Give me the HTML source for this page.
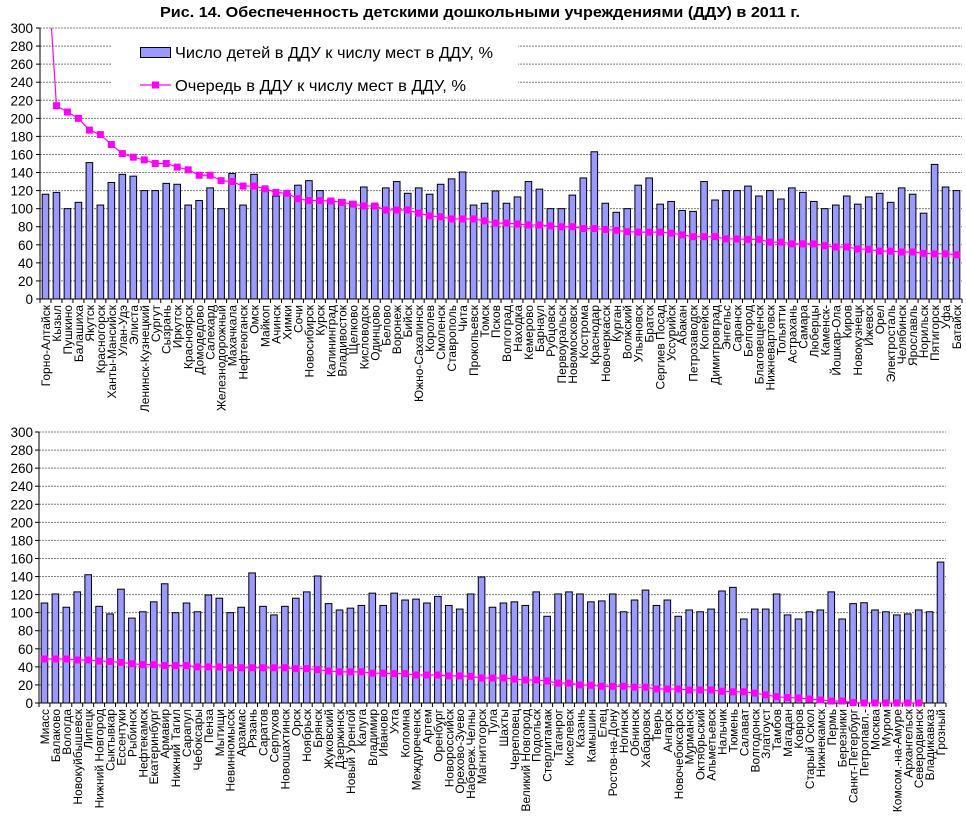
<!DOCTYPE html>
<html><head><meta charset="utf-8">
<style>
html,body{margin:0;padding:0;background:#fff;}
svg{display:block;font-family:"Liberation Sans",Arial,sans-serif;}
</style></head>
<body>
<svg id="s" width="966" height="827" viewBox="0 0 966 827" xmlns="http://www.w3.org/2000/svg">
<text x="480" y="17" text-anchor="middle" font-size="15" font-weight="bold" textLength="640" lengthAdjust="spacingAndGlyphs">Рис. 14. Обеспеченность детскими дошкольными учреждениями (ДДУ) в 2011 г.</text>
</svg>
<script>
const NS="http://www.w3.org/2000/svg";
const svg=document.getElementById('s');
function el(t,a,txt,parent){const e=document.createElementNS(NS,t);for(const k in a)e.setAttribute(k,a[k]);if(txt!=null)e.textContent=txt;(parent||svg).appendChild(e);return e;}

const topC={x0:40,x1:962,y0:299,y300:28,
names:["Горно-Алтайск","Кызыл","Пушкино","Балашиха","Якутск","Красногорск","Ханты-Мансийск","Улан-Удэ","Элиста","Ленинск-Кузнецкий","Сургут","Сызрань","Иркутск","Красноярск","Домодедово","Салехард","Железнодорожный","Махачкала","Нефтеюганск","Омск","Майкоп","Ачинск","Химки","Сочи","Новосибирск","Курск","Калининград","Владивосток","Щелково","Кисловодск","Одинцово","Белово","Воронеж","Бийск","Южно-Сахалинск","Королев","Смоленск","Ставрополь","Чита","Прокопьевск","Томск","Псков","Волгоград","Находка","Кемерово","Барнаул","Рубцовск","Первоуральск","Новомосковск","Кострома","Краснодар","Новочеркасск","Курган","Волжский","Ульяновск","Братск","Сергиев Посад","Уссурийск","Абакан","Петрозаводск","Копейск","Димитровград","Энгельс","Саранск","Белгород","Благовещенск","Нижневартовск","Тольятти","Астрахань","Самара","Люберцы","Каменск-","Йошкар-Ола","Киров","Новокузнецк","Ижевск","Орел","Электросталь","Челябинск","Ярославль","Норильск","Пятигорск","Уфа","Батайск"],
bars:[116,118,100,107,151,104,129,138,136,120,120,128,127,104,109,123,100,139,104,138,122,114,117,126,131,120,110,110,108,124,105,123,130,117,123,116,127,133,140.6,104,106,119.6,106,113,130,121.6,100,100,115,134,163,106,96,100,126,134,105,108,98,97,130,109.6,120,120,125,114,120,110.7,123,118,108,100,104,114,105,113,117,107,123,116,95,149,124,120],
line:[403,214,207,200,187,182,171,161,157,154,150,150,146,143,137,137,131,130,125,125,122,118,117,111,109,109,108.5,107,105,103,103,98.5,98.5,98.5,95,92,91,88.6,88.6,88.6,86.5,84,84,83,82,82,81,80,80,78,78,77,76,74.5,74,74,74,73,71,69,69,69,66.5,66.5,66,66,63,63,61,61,61,59,57.6,57.6,55.4,55,53,53,52,52,50.5,50,50,49]};

const botC={x0:39,x1:946,y0:703,y300:432,
names:["Миасс","Балаково","Вологда","Новокуйбышевск","Липецк","Нижний Новгород","Сыктывкар","Ессентуки","Рыбинск","Нефтекамск","Екатеринбург","Армавир","Нижний Тагил","Сарапул","Чебоксары","Пенза","Мытищи","Невинномысск","Арзамас","Рязань","Саратов","Серпухов","Новошахтинск","Орск","Ноябрьск","Брянск","Жуковский","Дзержинск","Новый Уренгой","Калуга","Владимир","Иваново","Ухта","Коломна","Междуреченск","Артем","Оренбург","Новороссийск","Орехово-Зуево","Набереж.Челны","Магнитогорск","Тула","Шахты","Череповец","Великий Новгород","Подольск","Стерлитамак","Таганрог","Киселевск","Казань","Камышин","Елец","Ростов-на-Дону","Ногинск","Обнинск","Хабаровск","Тверь","Ангарск","Новочебоксарск","Мурманск","Октябрьский","Альметьевск","Нальчик","Тюмень","Салават","Волгодонск","Златоуст","Тамбов","Магадан","Ковров","Старый Оскол","Нижнекамск","Пермь","Березники","Санкт-Петербург","Петропавл.-","Москва","Муром","Комсом.-на-Амуре","Архангельск","Северодвинск","Владикавказ","Грозный"],
bars:[110.7,120.7,106,123,142,107,98.6,126,94,101,112,132,100,110.7,101,119.6,116,100,106,144,107,97.5,107,116,123,140.6,110,103,105,108,121.6,108,121.6,114,115,110.7,118,108,104,120.7,139.5,106,110.7,112,108,123,96,120.7,123,120.7,112,113,120.7,101,114,125,108,114,96,103,101,104,124,128,93,104,104,120.7,97.5,93,101,103,123,93,110,111,103,101,97.5,98.6,103,101,156],
line:[48.7,48.7,48.7,47.6,47.6,46.5,46,45,43.5,42.5,42.5,41.5,41.5,41.5,40,40,40,39,39,39,39,39,39,38,38,37,35.5,34.5,34.5,34.5,33,33,32.5,32.5,31,31,31,30,30,29.5,27.7,27.7,27.7,26.5,25.5,25.5,24.4,22,22,20,19.6,18.5,18.5,18.5,17.5,17.5,15.5,15.5,15.5,14.4,14.4,14.4,13,12.4,12.4,11,9,7,6,5.5,4.4,3.3,2.2,2.2,0.5,0,0,0,0,0,0]};

function chart(c,id,legend){
  const n=c.names.length,w=(c.x1-c.x0)/n,k=(c.y0-c.y300)/300;
  const Y=v=>c.y0-v*k;
  // grid
  for(let v=20;v<=300;v+=20){
    el('line',{x1:c.x0,x2:c.x1,y1:Y(v),y2:Y(v),stroke:'#7f7f7f','stroke-width':1,'stroke-dasharray':'2,1'});
  }
  if(legend){
    el('rect',{x:112,y:33,width:406,height:66,fill:'#fff'});
    el('rect',{x:140.5,y:47.5,width:30,height:10,fill:'#9999ff',stroke:'#000','stroke-width':1});
    el('text',{x:175,y:58,'font-size':16,textLength:318,lengthAdjust:'spacingAndGlyphs'},'Число детей в ДДУ к числу мест в ДДУ, %');
    el('line',{x1:140,x2:171,y1:85,y2:85,stroke:'#ff00ff','stroke-width':1.2});
    el('rect',{x:152,y:81.5,width:7,height:7,fill:'#ff00ff'});
    el('text',{x:175,y:91,'font-size':16,textLength:291,lengthAdjust:'spacingAndGlyphs'},'Очередь в ДДУ к числу мест в ДДУ, %');
  }
  // y labels & ticks
  for(let v=0;v<=300;v+=20){
    el('text',{x:33,y:Y(v)+5,'font-size':13.5,'text-anchor':'end'},String(v));
    el('line',{x1:c.x0-4,x2:c.x0,y1:Y(v),y2:Y(v),stroke:'#000'});
  }
  // bars
  for(let i=0;i<n;i++){
    const cx=c.x0+w*(i+0.5),v=c.bars[i];
    el('rect',{x:(cx-3.3).toFixed(2),y:Y(v).toFixed(2),width:6.6,height:(v*k).toFixed(2),fill:'#9999ff',stroke:'#000','stroke-width':1});
  }
  // axes
  el('line',{x1:c.x0,x2:c.x0,y1:c.y300,y2:c.y0,stroke:'#000'});
  el('line',{x1:c.x0,x2:c.x1,y1:c.y0,y2:c.y0,stroke:'#000'});
  for(let i=0;i<=n;i++){
    const x=c.x0+w*i;
    el('line',{x1:x,x2:x,y1:c.y0,y2:c.y0+4,stroke:'#000'});
  }
  // line clip
  const cp=el('clipPath',{id:id});
  el('rect',{x:c.x0,y:c.y300,width:c.x1-c.x0,height:c.y0-c.y300+5},null,cp);
  const g=el('g',{'clip-path':'url(#'+id+')'});
  let pts=[];
  for(let i=0;i<c.line.length;i++){pts.push((c.x0+w*(i+0.5)).toFixed(2)+','+Y(c.line[i]).toFixed(2));}
  el('polyline',{points:pts.join(' '),fill:'none',stroke:'#ff00ff','stroke-width':1.2},null,g);
  for(let i=0;i<c.line.length;i++){
    const cx=c.x0+w*(i+0.5);
    el('rect',{x:(cx-3.5).toFixed(2),y:(Y(c.line[i])-3.5).toFixed(2),width:7,height:7,fill:'#ff00ff'},null,g);
  }
  // category labels
  for(let i=0;i<n;i++){
    const cx=c.x0+w*(i+0.5)+4.5,y=c.y0+6;
    el('text',{x:0,y:0,'font-size':12,'text-anchor':'end',transform:`translate(${cx.toFixed(2)},${y}) rotate(-90)`},c.names[i]);
  }
}
chart(topC,'c1',true);
chart(botC,'c2',false);
</script>
</body></html>
